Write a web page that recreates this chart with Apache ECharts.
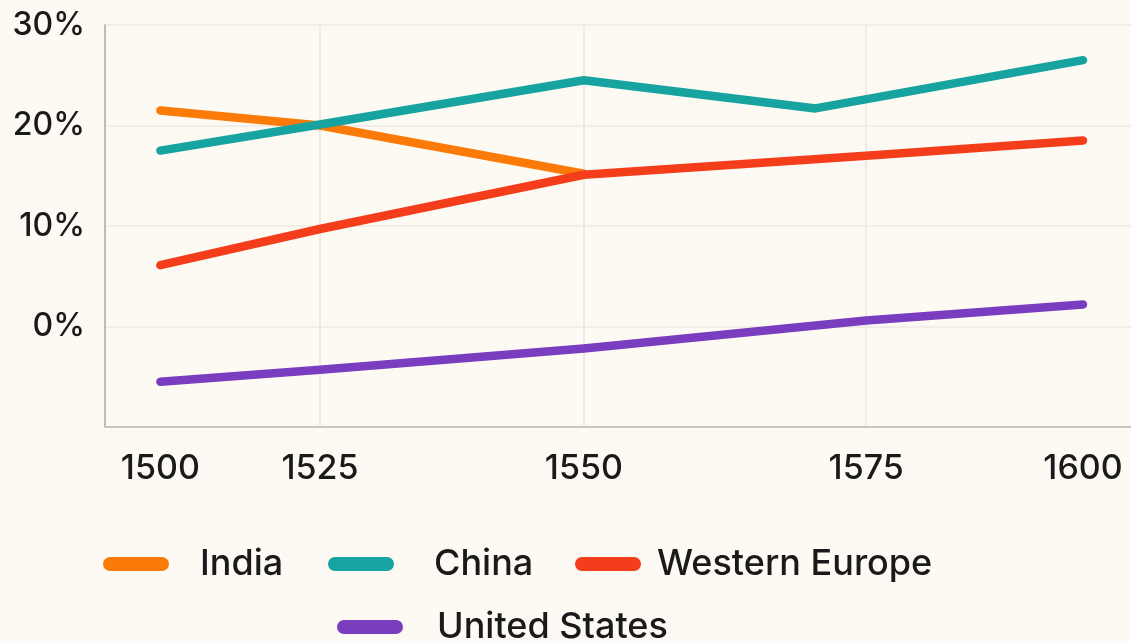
<!DOCTYPE html>
<html>
<head>
<meta charset="utf-8">
<script src="https://cdn.jsdelivr.net/npm/echarts@6/dist/echarts.min.js"></script>
<style>
  html, body { margin: 0; padding: 0; background: #fdfaf4; }
  #chart { width: 1131px; height: 641px; }
</style>
</head>
<body>
<div id="chart"></div>
<script>
// Tick labels of the (unevenly spaced) year axis and where each one sits on the stretched axis
const yearLabels = ['1500', '1525', '1550', '1575', '1600'];
const yearAt     = [1500, 1517.3, 1545.9, 1576.5, 1600];
const gridAt     = [1517.3, 1545.9, 1576.5];
const yTicks = [-10, 0, 10, 20, 30];

// Series values (x on the stretched year axis, y in %)
const indiaX = [1500, 1517.3, 1545.9];
const indiaY = [21.5, 20.0, 15.2];
const chinaX = [1500, 1517.3, 1545.9, 1571.0, 1600];
const chinaY = [17.5, 20.1, 24.5, 21.7, 26.5];
const westEuropeX = [1500, 1517.3, 1545.9, 1576.5, 1600];
const westEuropeY = [6.1, 9.7, 15.1, 17.0, 18.5];
const usX = [1500, 1517.3, 1545.9, 1576.5, 1600];
const usY = [-5.5, -4.3, -2.2, 0.6, 2.2];

const names = ['India', 'China', 'Western Europe', 'United States'];
const colors = ['#fb7a08', '#17a39f', '#f33d1b', '#7a3dbf'];

const zip = (xs, ys) => xs.map((x, i) => [x, ys[i]]);
const seriesData = [zip(indiaX, indiaY), zip(chinaX, chinaY), zip(westEuropeX, westEuropeY), zip(usX, usY)];

const FONT = 'Inter';
const TXT = '#1a1a1a';
const pill = 'path://M7,0 H59 A7,7 0 0 1 59,14 H7 A7,7 0 0 1 7,0 Z';

function legendFor(i, left, top, gap) {
  return {
    data: [names[i]],
    left: left, top: top,
    icon: pill,
    itemWidth: 66, itemHeight: 14,
    padding: 0,
    selectedMode: false,
    textStyle: { fontFamily: FONT, fontSize: 36, fontWeight: 500, color: TXT, padding: [0, 0, 0, gap] }
  };
}

const chart = echarts.init(document.getElementById('chart'), null, { renderer: 'canvas' });
chart.setOption({
  backgroundColor: '#fdfaf4',
  animation: false,
  grid: { left: 105, right: 0, top: 25, bottom: 214, containLabel: false },
  xAxis: {
    type: 'value',
    min: 1494.0, max: 1605.2,
    axisLine: { show: true, onZero: false, lineStyle: { color: '#c9c6c0', width: 2 } },
    axisTick: { show: false, customValues: gridAt },
    splitLine: { show: true, lineStyle: { color: '#e9e6e0', width: 1.5 } },
    axisLabel: {
      customValues: yearAt,
      margin: 25,
      fontFamily: FONT, fontSize: 34, fontWeight: 500, color: TXT,
      formatter: function (v) {
        let best = 0;
        yearAt.forEach((p, i) => { if (Math.abs(p - v) < Math.abs(yearAt[best] - v)) best = i; });
        return yearLabels[best];
      }
    }
  },
  yAxis: {
    type: 'value',
    min: -10, max: 30, interval: 10,
    axisLine: { show: true, onZero: false, lineStyle: { color: '#aaa7a2', width: 1.5 } },
    axisTick: { show: false },
    splitLine: { show: true, lineStyle: { color: '#ece9e3', width: 1.5 } },
    axisLabel: {
      margin: 20,
      fontFamily: FONT, fontSize: 32, fontWeight: 500, color: TXT,
      formatter: function (v) { return v < 0 ? '' : v + '%'; }
    }
  },
  legend: [
    legendFor(0, 103, 546, 26),
    legendFor(1, 328, 546, 35),
    legendFor(2, 575, 546, 11),
    legendFor(3, 337, 609, 29)
  ],
  series: names.map((n, i) => ({
    name: n,
    type: 'line',
    data: seriesData[i],
    showSymbol: false,
    symbol: 'none',
    color: colors[i],
    lineStyle: { width: 8.5, color: colors[i], cap: 'round', join: 'round' },
    z: 10 + (i === 2 ? 1 : 0)
  }))
});
</script>
</body>
</html>
